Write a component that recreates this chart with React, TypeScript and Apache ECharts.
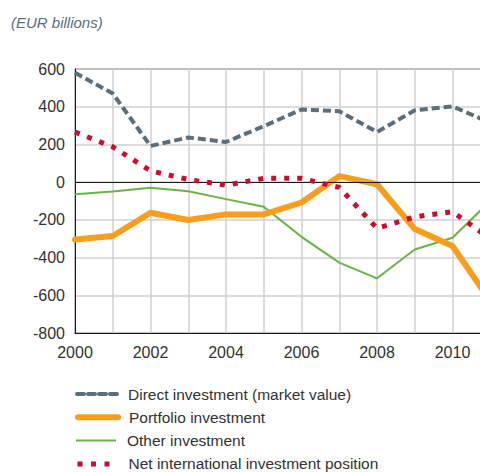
import React, { useEffect, useRef } from "react";
import * as echarts from "echarts";

const years = [2000, 2001, 2002, 2003, 2004, 2005, 2006, 2007, 2008, 2009, 2010, 2011];
const directInvestment = [580, 470, 192, 237, 213, 297, 385, 376, 266, 381, 402, 315];
const portfolioInvestment = [-304, -286, -162, -201, -171, -171, -108, 32, -11, -249, -339, -630];
const otherInvestment = [-64, -49, -30, -48, -90, -131, -290, -427, -510, -357, -295, -100];
const netPosition = [266, 187, 60, 14, -16, 20, 20, -28, -245, -184, -157, -300];
const seriesNames = [
  "Direct investment (market value)",
  "Portfolio investment",
  "Other investment",
  "Net international investment position",
];

const FONT = "'Liberation Sans', Arial, sans-serif";

const legendLineStyles = [
  { color: "#5b6e7b", width: 4, type: [7, 4], cap: "round" },
  { color: "#f99d1c", width: 6, type: "solid", cap: "round" },
  { color: "#6ab344", width: 2, type: "solid", cap: "butt" },
  { color: "#c8102e", width: 5, type: [5, 8.5], cap: "butt" },
];

export default function App() {
  const ref = useRef<HTMLDivElement>(null);
  useEffect(() => {
    if (!ref.current) return;
    const chart = echarts.init(ref.current, undefined, { renderer: "svg" });
    const pair = (arr: number[]) => years.map((y, i) => [y, arr[i]]);
    chart.setOption({
      animation: false,
      textStyle: { fontFamily: FONT },
      title: {
        text: "(EUR billions)",
        left: 11,
        top: 15,
        padding: 0,
        textStyle: { fontFamily: FONT, fontSize: 15, fontStyle: "italic", fontWeight: "normal", color: "#5b6e7b" },
      },
      grid: {
        left: 75,
        top: 69,
        right: 0,
        bottom: 139,
        show: true,
        borderColor: "#1a1a1a",
        borderWidth: 1,
        outerBoundsMode: "none",
        containLabel: false,
      },
      xAxis: {
        type: "value",
        min: 2000,
        max: 2012,
        interval: 1,
        axisLine: { onZero: false, show: true, lineStyle: { color: "#1a1a1a" } },
        axisTick: { show: false },
        splitLine: { show: true, lineStyle: { color: "#d0d0d0", width: 1.5 } },
        axisLabel: {
          formatter: (v: number) => (v % 2 === 0 && v <= 2010 ? String(v) : ""),
          fontFamily: FONT,
          fontSize: 16,
          color: "#333",
          margin: 11,
        },
      },
      yAxis: {
        type: "value",
        min: -800,
        max: 600,
        interval: 200,
        axisLine: { show: true, lineStyle: { color: "#1a1a1a" } },
        axisTick: { show: false },
        splitLine: { show: true, lineStyle: { color: "#d0d0d0", width: 1.5 } },
        axisLabel: { fontFamily: FONT, fontSize: 16, color: "#333", margin: 10 },
      },
      legend: seriesNames.map((name, i) => ({
        orient: "vertical",
        left: 75,
        top: 386 + i * 23.3,
        padding: 0,
        itemWidth: 40,
        itemHeight: 14,
        itemStyle: { opacity: 0 },
        lineStyle: legendLineStyles[i],
        textStyle: { fontFamily: FONT, fontSize: 15.5, lineHeight: 14, color: "#333", padding: [0, 0, 0, 6] },
        data: [name],
      })),
      series: [
        {
          name: seriesNames[2],
          type: "line",
          data: pair(otherInvestment),
          symbol: "none",
          lineStyle: { color: "#6ab344", width: 2 },
          itemStyle: { color: "#6ab344" },
          markLine: {
            silent: true,
            symbol: "none",
            label: { show: false },
            lineStyle: { color: "#1a1a1a", width: 1, type: "solid" },
            data: [{ yAxis: 0 }],
          },
          z: 2,
        },
        {
          name: seriesNames[1],
          type: "line",
          data: pair(portfolioInvestment),
          symbol: "none",
          lineStyle: { color: "#f99d1c", width: 6, cap: "round", join: "round" },
          itemStyle: { color: "#f99d1c" },
          z: 3,
        },
        {
          name: seriesNames[0],
          type: "line",
          data: pair(directInvestment),
          symbol: "none",
          lineStyle: { color: "#5b6e7b", width: 4, type: [8, 4] },
          itemStyle: { color: "#5b6e7b" },
          z: 4,
        },
        {
          name: seriesNames[3],
          type: "line",
          data: pair(netPosition),
          symbol: "none",
          lineStyle: { color: "#c8102e", width: 5, type: [5, 8] },
          itemStyle: { color: "#c8102e" },
          z: 5,
        },
      ],
    });
    return () => chart.dispose();
  }, []);
  return (
    <div style={{ position: "absolute", left: 0, top: 0, width: 480, height: 472, overflow: "hidden", background: "#fff" }}>
      <div ref={ref} style={{ width: 528, height: 472 }} />
    </div>
  );
}
